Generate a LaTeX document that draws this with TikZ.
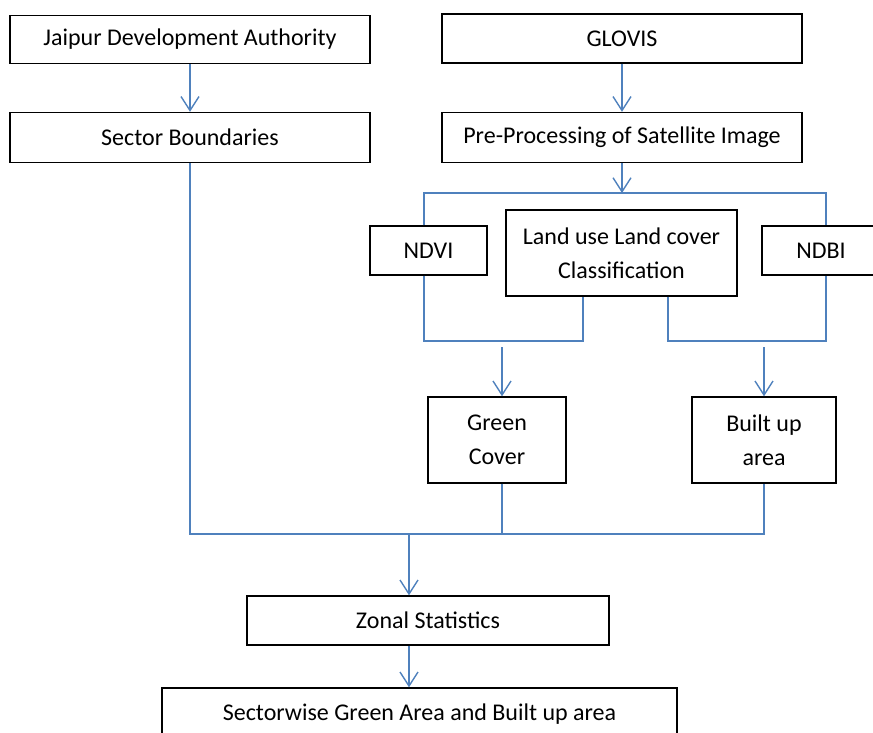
\documentclass[tikz,border=0pt]{standalone}
\usepackage{fontspec}
\setmainfont{Carlito}
\usetikzlibrary{arrows.meta}
\definecolor{lineblue}{RGB}{79,129,189}
\begin{document}
\begin{tikzpicture}[x=1pt,y=-1pt,
 box/.style={draw=black, line width=1.4pt, inner sep=0pt, align=center, font=\fontsize{24}{34}\selectfont},
 conn/.style={draw=lineblue, line width=1.4pt},
 arr/.style={conn, -{Straight Barb[length=14pt,width=18pt,line width=1.4pt]}}]
\useasboundingbox (0,0) rectangle (873,732);
\node[box, minimum width=360pt, minimum height=48pt] (jda) at (190,39.5) {Jaipur Development Authority};
\node[box, minimum width=360pt, minimum height=49pt] (glovis) at (622,38.5) {GLOVIS};
\node[box, minimum width=360pt, minimum height=50pt] (sb) at (190,137.5) {Sector Boundaries};
\node[box, minimum width=360pt, minimum height=50pt] (pp) at (622,137.5) {Pre-Processing of Satellite Image};
\node[box, minimum width=117pt, minimum height=49pt] (ndvi) at (428.5,250.5) {NDVI};
\node[box, minimum width=231pt, minimum height=86pt] (lulc) at (621.5,253) {Land use Land cover\\Classification};
\node[box, minimum width=118pt, minimum height=49pt] (ndbi) at (821,250.5) {NDBI};
\node[box, minimum width=138pt, minimum height=86pt] (green) at (497,440) {Green\\Cover};
\node[box, minimum width=144pt, minimum height=86pt] (bu) at (764,440) {Built up\\area};
\node[box, minimum width=362pt, minimum height=49pt] (zonal) at (428,620.5) {Zonal Statistics};
\node[box, minimum width=515pt, minimum height=52pt] (final) at (419.5,714) {Sectorwise Green Area and Built up area};

\coordinate (split) at (622,193);
\coordinate (bl) at (424,193);
\coordinate (br) at (826,193);
\coordinate (jl1) at (424,341);
\coordinate (jl2) at (583,341);
\coordinate (jr1) at (668,341);
\coordinate (jr2) at (826,341);
\coordinate (ga) at (502,347);
\coordinate (ba) at (764,347);
\coordinate (m) at (409,534);

\draw[arr] (jda) -- (sb);
\draw[arr] (glovis) -- (pp);
\draw[arr] (pp.south) -- (split);
\draw[conn] (ndvi.north -| bl) -- (bl) -- (br) -- (ndbi.north -| br);
\draw[conn] (ndvi.south -| jl1) -- (jl1) -- (jl2) -- (lulc.south -| jl2);
\draw[conn] (lulc.south -| jr1) -- (jr1) -- (jr2) -- (ndbi.south -| jr2);
\draw[arr] (ga) -- (green.north -| ga);
\draw[arr] (ba) -- (bu.north -| ba);
\draw[conn] (sb.south) -- (sb.south |- m) -- (ba |- m) -- (bu.south -| ba);
\draw[conn] (green.south -| ga) -- (ga |- m);
\draw[arr] (m) -- (zonal.north -| m);
\draw[arr] (zonal.south -| m) -- (final.north -| m);
\end{tikzpicture}
\end{document}
